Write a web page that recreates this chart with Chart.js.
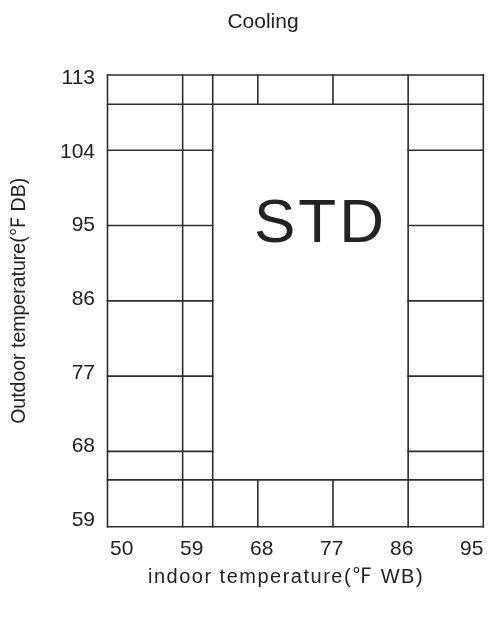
<!DOCTYPE html>
<html>
<head>
<meta charset="utf-8">
<script src="https://cdn.jsdelivr.net/npm/chart.js@4.4.1/dist/chart.umd.min.js"></script>
<style>
  html, body { margin: 0; padding: 0; background: #fff; }
  #wrap { width: 489px; height: 619px; }
</style>
</head>
<body>
<div id="wrap"><canvas id="mapChart"></canvas></div>
<script>
// axis ticks (°F)
const indoorTicks = [50, 59, 68, 77, 86, 95];        // indoor WB
const outdoorTicks = [59, 68, 77, 86, 95, 104, 113]; // outdoor DB

// limit lines of the cooling map
// horizontal: [outdoor temp, indoor from, indoor to]
const hLines = [
    [113, 50, 95], [109.5, 50, 95],
    [104, 50, 62.6], [95, 50, 62.6], [86, 50, 62.6], [77, 50, 62.6], [68, 50, 62.6],
    [104, 86, 95], [95, 86, 95], [86, 86, 95], [77, 86, 95], [68, 86, 95],
    [64.6, 50, 95], [59, 50, 95]
];
// vertical: [indoor temp, outdoor from, outdoor to]
const vLines = [
    [50, 59, 113], [59, 59, 113], [62.6, 59, 113], [86, 59, 113], [95, 59, 113],
    [68, 109.5, 113], [77, 109.5, 113],
    [68, 59, 64.6], [77, 59, 64.6]
];
const zoneLabel = { text: 'STD', x: 75.5, y: 95.1 };

const FONT = "'Liberation Sans', Arial, 'Noto Sans CJK SC', sans-serif";
const INK = '#222';

let segments = [];
hLines.forEach(([y, a, b]) => segments.push([{ x: a, y: y }, { x: b, y: y }]));
vLines.forEach(([x, a, b]) => segments.push([{ x: x, y: a }, { x: x, y: b }]));

// title, x axis title and zone label
const textPlugin = {
    id: 'texts',
    afterDraw(chart) {
        let c = chart.ctx;
        let sx = chart.scales.x, sy = chart.scales.y;
        c.save();
        c.fillStyle = INK;
        c.textAlign = 'center';
        c.textBaseline = 'middle';

        c.font = '21px ' + FONT;
        c.fillText('Cooling', 263, 22);

        c.font = '20px ' + FONT;
        c.letterSpacing = '1.5px';
        c.fillText('indoor temperature(℉ WB)', 286, 577);

        c.font = '62px ' + FONT;
        c.letterSpacing = '3px';
        c.fillText(zoneLabel.text, sx.getPixelForValue(zoneLabel.x), sy.getPixelForValue(zoneLabel.y));
        c.restore();
    }
};

let ctx = document.getElementById('mapChart').getContext('2d');
let mapChart = new Chart(ctx, {
    type: 'scatter',
    data: {
        datasets: segments.map(seg => ({
            data: seg,
            showLine: true,
            borderColor: '#2d2d2d',
            borderWidth: 1.6,
            borderCapStyle: 'square',
            pointRadius: 0,
            pointHoverRadius: 0,
            clip: false
        }))
    },
    options: {
        responsive: true,
        maintainAspectRatio: false,
        animation: false,
        events: [],
        layout: { padding: { top: 75, right: 5.7, left: 0, bottom: 0 } },
        plugins: {
            legend: { display: false },
            tooltip: { enabled: false },
            title: { display: false }
        },
        scales: {
            x: { type: 'linear', min: 50, max: 95, display: false },
            y: { type: 'linear', min: 59, max: 113, display: false },
            xl: {
                type: 'linear',
                position: 'bottom',
                min: 48.17,
                max: 96.49,
                grid: { display: false, drawTicks: false },
                border: { display: false },
                afterBuildTicks: s => { s.ticks = indoorTicks.map(v => ({ value: v })); },
                afterFit: s => { s.height = 92.3; s.paddingLeft = 0; s.paddingRight = 0; },
                ticks: {
                    autoSkip: false,
                    maxRotation: 0,
                    padding: 10,
                    color: INK,
                    font: { size: 21, family: FONT }
                }
            },
            yl: {
                type: 'linear',
                position: 'left',
                min: 58.18,
                max: 113.4,
                grid: { display: false, drawTicks: false },
                border: { display: false },
                afterBuildTicks: s => { s.ticks = outdoorTicks.map(v => ({ value: v })); },
                afterFit: s => { s.width = 107.5; s.paddingTop = 0; s.paddingBottom = 0; },
                ticks: {
                    autoSkip: false,
                    padding: 12.5,
                    color: INK,
                    font: { size: 21, family: FONT }
                },
                title: {
                    display: true,
                    text: 'Outdoor temperature(℉ DB)',
                    color: INK,
                    font: { size: 19.5, family: FONT },
                    padding: { top: 8, bottom: 0 }
                }
            }
        }
    },
    plugins: [textPlugin]
});
</script>
</body>
</html>
